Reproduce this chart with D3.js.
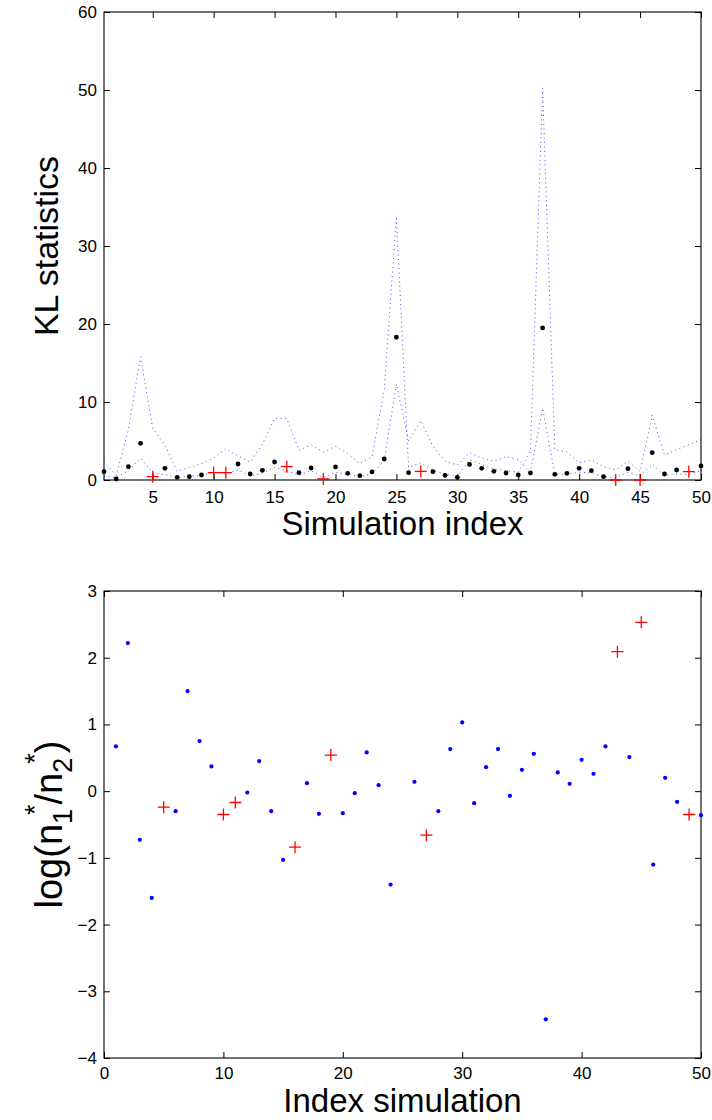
<!DOCTYPE html>
<html><head><meta charset="utf-8">
<script src="https://cdn.jsdelivr.net/npm/d3@7"></script>
<style>
body{margin:0;background:#fff}
svg{display:block}
text{font-family:"Liberation Sans",Arial,Helvetica,sans-serif;fill:#000}
</style>
</head><body>
<svg id="c" width="712" height="1120"></svg>
<script>
// ---------- DATA ----------
const simIndex = [1,2,3,4,5,6,7,8,9,10,11,12,13,14,15,16,17,18,19,20,21,22,23,24,25,
                  26,27,28,29,30,31,32,33,34,35,36,37,38,39,40,41,42,43,44,45,46,47,48,49,50];
// KL statistic per simulation
const klStat = [1.07,0.13,1.71,4.7,0.43,1.5,0.34,0.43,0.64,0.94,0.94,2.05,0.77,1.24,2.31,1.71,0.94,1.54,0.13,1.67,
                0.85,0.55,1.03,2.69,18.3,0.94,1.1,1.07,0.6,0.34,2.0,1.5,1.11,0.9,0.64,0.9,19.5,0.73,0.85,1.5,
                1.2,0.43,0.0,1.45,0.0,3.5,0.77,1.28,1.07,1.8];
// dotted curve A (large peaks)
const curveA = [2.4,0.6,6.4,15.8,6.6,4.5,1.1,1.6,2.1,2.8,4.0,3.1,2.3,4.6,7.9,7.9,3.8,4.5,3.6,4.3,
                3.4,2.1,3.0,11.5,33.8,1.6,2.2,1.2,0.8,0.4,2.6,2.0,1.4,1.2,1.0,3.6,50.2,3.9,3.6,2.2,
                2.6,1.7,1.3,2.4,1.1,8.3,3.2,3.9,4.5,5.2];
// dotted curve B
const curveB = [0.5,0.3,1.2,2.8,0.9,0.7,0.3,0.5,0.6,1.0,0.8,1.3,0.5,0.9,1.6,1.2,0.6,1.2,0.3,1.0,
                0.7,0.4,0.8,2.5,12.3,5.0,7.6,4.3,2.4,1.9,3.5,2.8,2.4,3.0,2.6,1.0,9.2,0.8,0.7,1.0,
                0.9,0.4,0.3,1.0,0.5,2.0,0.6,0.8,0.7,1.2];
// log(n1*/n2*) per simulation (simulation 25 not shown in the plot)
const logRatio = [0.67,2.22,-0.73,-1.6,-0.24,-0.30,1.50,0.75,0.37,-0.35,-0.17,-0.02,0.45,-0.30,-1.03,-0.84,0.12,-0.34,0.54,-0.33,
                  -0.03,0.58,0.09,-1.40,null,0.14,-0.66,-0.30,0.63,1.03,-0.18,0.36,0.63,-0.07,0.32,0.56,-3.42,0.28,0.11,0.47,
                  0.26,0.67,2.09,0.51,2.53,-1.10,0.20,-0.16,-0.35,-0.36];
// simulations flagged (red +)
const flagged = [5,10,11,16,19,27,43,45,49];

const topXTicks = [5,10,15,20,25,30,35,40,45,50];
const topYTicks = [0,10,20,30,40,50,60];
const botXTicks = [0,10,20,30,40,50];
const botYTicks = [-4,-3,-2,-1,0,1,2,3];

// ---------- DRAW ----------
const svg = d3.select("#c");
const L = 104, R = 701;
const tickLen = 6, tickFont = 17, titleFont = 33;

function frame(g, x, y, xt, yt, top, bottom, xPad) {
  const ax = (gen, tr, vals, lab, pad) => {
    const a = g.append("g").attr("transform", tr)
      .call(gen.tickValues(vals).tickSize(-tickLen).tickPadding(lab ? pad : 0).tickFormat(lab ? d3.format("") : () => ""));
    a.select(".domain").remove();
    a.selectAll("line").attr("stroke", "#000");
    a.selectAll("text").attr("font-size", tickFont).attr("font-family", '"Liberation Sans",Arial,sans-serif');
    return a;
  };
  ax(d3.axisBottom(x), `translate(0,${bottom})`, xt, true, xPad);
  ax(d3.axisTop(x), `translate(0,${top})`, xt, false, 0);
  ax(d3.axisLeft(y), `translate(${L},0)`, yt, true, 7);
  ax(d3.axisRight(y), `translate(${R},0)`, yt, false, 0);
  g.append("rect").attr("x", L).attr("y", top).attr("width", R - L).attr("height", bottom - top)
    .attr("fill", "none").attr("stroke", "#000").attr("stroke-width", 1.1);
}

function plus(g, data, xf, yf) {
  const s = 6;
  g.selectAll(null).data(data).enter().append("path")
    .attr("d", d => `M${xf(d)-s},${yf(d)}H${xf(d)+s}M${xf(d)},${yf(d)-s}V${yf(d)+s}`)
    .attr("stroke", "#ff0000").attr("stroke-width", 1.3).attr("fill", "none");
}

// --- top panel ---
const T0 = 12, T1 = 480;
const xT = d3.scaleLinear().domain([1, 50]).range([L, R]);
const yT = d3.scaleLinear().domain([0, 60]).range([T1, T0]);
const gT = svg.append("g");
frame(gT, xT, yT, topXTicks, topYTicks, T0, T1, 11);

const lineT = d3.line().x((d, i) => xT(simIndex[i])).y(d => yT(d));
[curveA, curveB].forEach(c => {
  gT.append("path").datum(c).attr("d", lineT).attr("fill", "none")
    .attr("stroke", "#0000ff").attr("stroke-width", 1).attr("stroke-dasharray", "1,3.5").attr("opacity", 0.7);
});
const topPts = simIndex.map((s, i) => ({s, v: klStat[i]}));
gT.selectAll(null).data(topPts.filter(p => !flagged.includes(p.s))).enter().append("circle")
  .attr("cx", p => xT(p.s)).attr("cy", p => yT(p.v)).attr("r", 2.4).attr("fill", "#000");
plus(gT, topPts.filter(p => flagged.includes(p.s)), p => xT(p.s), p => yT(p.v));

gT.append("text").attr("x", (L + R) / 2).attr("y", 535).attr("text-anchor", "middle")
  .attr("font-size", titleFont).text("Simulation index");
gT.append("text").attr("transform", `translate(58,${(T0 + T1) / 2}) rotate(-90)`).attr("text-anchor", "middle")
  .attr("font-size", 34).text("KL statistics");

// --- bottom panel ---
const B0 = 591, B1 = 1058;
const xB = d3.scaleLinear().domain([0, 50]).range([L, R]);
const yB = d3.scaleLinear().domain([-4, 3]).range([B1, B0]);
const gB = svg.append("g");
frame(gB, xB, yB, botXTicks, botYTicks, B0, B1, 9);

const botPts = simIndex.map((s, i) => ({s, v: logRatio[i]})).filter(p => p.v !== null);
gB.selectAll(null).data(botPts.filter(p => !flagged.includes(p.s))).enter().append("circle")
  .attr("cx", p => xB(p.s)).attr("cy", p => yB(p.v)).attr("r", 2.1).attr("fill", "#0000ff");
plus(gB, botPts.filter(p => flagged.includes(p.s)), p => xB(p.s), p => yB(p.v));

gB.append("text").attr("x", (L + R) / 2).attr("y", 1112).attr("text-anchor", "middle")
  .attr("font-size", titleFont).text("Index simulation");

const yl = gB.append("text").attr("transform", `translate(62,${(B0 + B1) / 2}) rotate(-90)`)
  .attr("text-anchor", "middle").attr("font-size", 38);
yl.append("tspan").text("log(n");
yl.append("tspan").attr("font-size", 27).attr("dy", 10).text("1");
yl.append("tspan").attr("font-size", 27).attr("dx", -6).attr("dy", -28).text("*");
yl.append("tspan").attr("dy", 18).text("/n");
yl.append("tspan").attr("font-size", 27).attr("dy", 10).text("2");
yl.append("tspan").attr("font-size", 27).attr("dx", -6).attr("dy", -28).text("*");
yl.append("tspan").attr("dy", 18).text(")");
</script>
</body></html>
